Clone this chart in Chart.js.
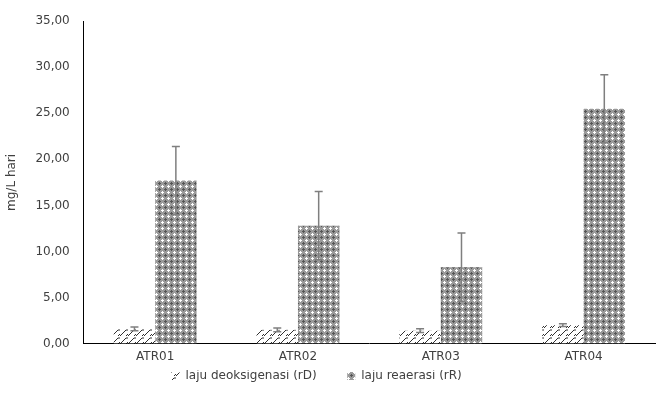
<!DOCTYPE html>
<html>
<head>
<meta charset="utf-8">
<script src="https://cdn.jsdelivr.net/npm/chart.js@4"></script>
<style>
  html, body { margin: 0; padding: 0; background: #fff; }
  #wrap { width: 659px; height: 402px; }
</style>
</head>
<body>
<div id="wrap"><canvas id="chart" width="659" height="402"></canvas></div>
<script>
// chart data
const categories = ['ATR01', 'ATR02', 'ATR03', 'ATR04'];
const rdValues = [1.6, 1.5, 1.4, 2.0];
const rdErrors = [0.2, 0.2, 0.2, 0.15];
const rrValues = [17.7, 12.8, 8.3, 25.5];
const rrErrors = [3.7, 3.7, 3.7, 3.7];
const seriesNames = ['laju deoksigenasi (rD)', 'laju reaerasi (rR)'];
const yTicks = [0, 5, 10, 15, 20, 25, 30, 35];

// pattern for rD: slanted dashes on white
function makeHatch() {
    const c = document.createElement('canvas');
    c.width = 8; c.height = 8;
    const g = c.getContext('2d');
    g.fillStyle = '#ffffff';
    g.fillRect(0, 0, 8, 8);
    g.strokeStyle = '#303030';
    g.lineWidth = 1;
    g.beginPath();
    g.moveTo(0, 8); g.lineTo(6, 2);
    g.lineTo(8, 2);
    g.moveTo(6, 8); g.lineTo(8, 6);
    g.stroke();
    return g.createPattern(c, 'repeat');
}

// pattern for rR: grey spheres with white gaps
function makeDots() {
    const c = document.createElement('canvas');
    c.width = 6; c.height = 6;
    const g = c.getContext('2d');
    g.fillStyle = '#9a9a9a';
    g.fillRect(0, 0, 6, 6);
    g.fillStyle = '#ffffff';
    g.fillRect(0, 0, 1, 1);
    g.fillRect(1, 0, 1, 1);
    g.fillRect(5, 0, 1, 1);
    g.fillRect(0, 1, 1, 1);
    g.fillRect(0, 5, 1, 1);
    g.fillStyle = '#555555';
    g.fillRect(3, 2, 1, 3);
    g.fillRect(2, 3, 3, 1);
    return g.createPattern(c, 'repeat');
}

// draws the error bars from the data arrays
const errorBars = {
    id: 'errorBars',
    afterDatasetsDraw(chart) {
        const ctx = chart.ctx;
        const y = chart.scales.y;
        chart.data.datasets.forEach((ds, di) => {
            const meta = chart.getDatasetMeta(di);
            meta.data.forEach((bar, i) => {
                const v = ds.data[i];
                const e = ds.errors[i];
                const top = y.getPixelForValue(v + e);
                const bot = y.getPixelForValue(v - e);
                ctx.save();
                ctx.strokeStyle = '#7f7f7f';
                ctx.lineWidth = 1.5;
                ctx.beginPath();
                ctx.moveTo(bar.x, top);
                ctx.lineTo(bar.x, bot);
                ctx.moveTo(bar.x - 4, top);
                ctx.lineTo(bar.x + 4, top);
                ctx.moveTo(bar.x - 4, bot);
                ctx.lineTo(bar.x + 4, bot);
                ctx.stroke();
                ctx.restore();
            });
        });
    }
};

Chart.defaults.font.family = 'Tahoma, "DejaVu Sans", sans-serif';
Chart.defaults.font.size = 12;
Chart.defaults.color = '#404040';

const hatch = makeHatch();
const dots = makeDots();

new Chart(document.getElementById('chart').getContext('2d'), {
    type: 'bar',
    data: {
        labels: categories,
        datasets: [{
            label: seriesNames[0],
            data: rdValues,
            errors: rdErrors,
            backgroundColor: hatch,
            borderWidth: 0,
            categoryPercentage: 0.58,
            barPercentage: 1.0
        }, {
            label: seriesNames[1],
            data: rrValues,
            errors: rrErrors,
            backgroundColor: dots,
            borderWidth: 0,
            categoryPercentage: 0.58,
            barPercentage: 1.0
        }]
    },
    options: {
        responsive: false,
        animation: false,
        layout: { padding: { top: 12, right: 4, left: 5, bottom: 10 } },
        plugins: {
            legend: {
                position: 'bottom',
                labels: {
                    boxWidth: 8,
                    boxHeight: 8,
                    padding: 0,
                    color: '#404040',
                    // extra room between the items, like the original legend
                    generateLabels: chart => {
                        const items = Chart.defaults.plugins.legend.labels.generateLabels(chart);
                        items[0].text += '        ';
                        items[1].text += '       ';
                        return items;
                    }
                }
            },
            tooltip: { enabled: false }
        },
        scales: {
            x: {
                grid: { display: false, drawTicks: false },
                border: { color: '#000000', width: 1 },
                ticks: { padding: 6, color: '#404040' }
            },
            y: {
                min: 0,
                max: 35,
                afterBuildTicks: axis => { axis.ticks = yTicks.map(v => ({ value: v })); },
                grid: { display: false, drawTicks: false },
                border: { color: '#000000', width: 1 },
                ticks: {
                    padding: 14,
                    color: '#404040',
                    callback: v => v.toFixed(2).replace('.', ',')
                },
                title: {
                    display: true,
                    text: 'mg/L hari',
                    color: '#404040',
                    padding: { top: 0, bottom: 2 }
                }
            }
        }
    },
    plugins: [errorBars]
});
</script>
</body>
</html>
